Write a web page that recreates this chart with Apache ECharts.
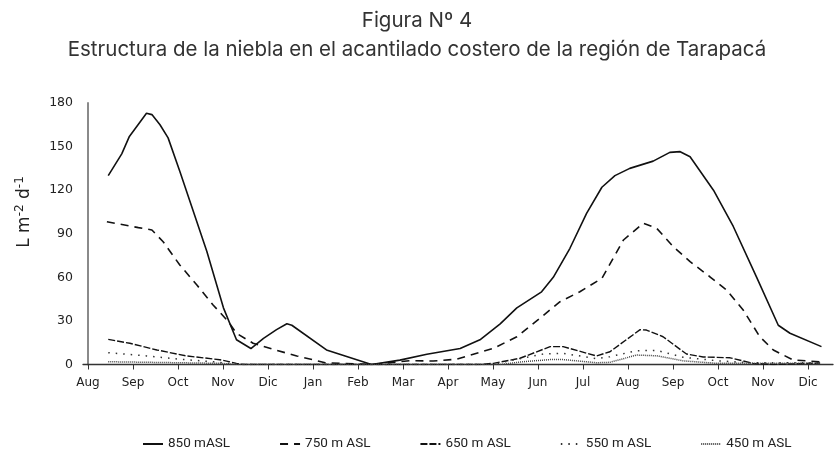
<!DOCTYPE html>
<html>
<head>
<meta charset="utf-8">
<script src="https://cdn.jsdelivr.net/npm/echarts@6/dist/echarts.min.js"></script>
<style>html,body{margin:0;padding:0;background:#fff}#c{width:834px;height:452px}</style>
</head>
<body>
<div id="c"></div>
<script>
// x values are months counted from the "Aug" tick (0 = Aug, 1 = Sep, ...)
var monthLabels = ['Aug','Sep','Oct','Nov','Dic','Jan','Feb','Mar','Apr','May','Jun','Jul','Aug','Sep','Oct','Nov','Dic'];
var yTicks = [0, 30, 60, 90, 120, 150, 180];
var seriesNames = ['850 mASL', '750 m ASL', '650 m ASL', '550 m ASL', '450 m ASL'];

var s850 = [[0.45,130],[0.75,145],[0.92,157],[1.30,173],[1.42,172],[1.60,165],[1.78,156],[2.04,133],[2.64,78],[3.01,39],[3.30,17],[3.62,11],[3.90,18],[4.19,24],[4.42,28],[4.53,27],[5.30,10],[6.30,0],[6.93,3],[7.53,7],[8.27,11],[8.71,17],[9.16,28],[9.53,39],[10.08,50],[10.34,60],[10.71,80],[11.08,104],[11.42,122],[11.71,130],[12.04,135],[12.56,140],[12.93,146],[13.16,146.5],[13.38,143],[13.90,120],[14.34,95],[14.86,60],[15.34,27],[15.60,21.5],[16.30,12.3]];
var s750 = [[0.42,98.3],[1.12,94.2],[1.42,92.6],[1.67,84.5],[2.04,68.5],[2.42,54.7],[2.78,41],[3.12,29.5],[3.30,21.5],[3.67,14.6],[4.12,10.4],[4.64,5.9],[5.27,1.2],[6.27,0],[7.16,2.6],[7.67,2.4],[8.19,3.6],[9.01,11.1],[9.53,19.1],[10.04,31.8],[10.49,43.2],[10.93,50.1],[11.42,59.3],[11.90,85.7],[12.34,97.2],[12.64,93.7],[13.01,81],[13.38,70.8],[13.82,60.4],[14.19,51.3],[14.56,37.5],[14.93,19.1],[15.23,10],[15.67,3.1],[16.27,1.9]];
var s650 = [[0.45,17.3],[0.93,14.6],[1.53,10],[2.19,5.9],[2.93,3.3],[3.30,0.8],[3.45,0],[6.30,0],[8.71,0],[9.01,0.8],[9.60,4.3],[10.27,12.3],[10.56,12.3],[11.30,5.9],[11.60,8.8],[12.27,24],[12.41,23.7],[12.78,19.1],[13.30,7.2],[13.67,5.2],[14.27,4.6],[14.78,0.8],[15.23,0],[16.27,1]];
var s550 = [[0.45,8.1],[1.30,5.9],[2.04,3.6],[2.78,1.9],[3.38,0],[6.30,0],[9.00,0],[9.53,3.6],[10.12,7.2],[10.56,7.7],[11.30,4],[11.60,5.4],[12.19,9.5],[12.64,9.7],[13.23,5],[13.97,2.6],[14.71,1.2],[16.27,1.2]];
var s450 = [[0.45,1.9],[2.04,1.2],[2.93,0.8],[3.38,0],[6.30,0],[9.16,0],[9.67,1.9],[10.27,3.4],[10.56,3.4],[11.30,1.2],[11.60,1.5],[12.19,6.5],[12.64,6],[13.23,2.5],[13.97,0.8],[16.27,0.8]];

var tickValues = monthLabels.map(function (_, i) { return i; });

var chart = echarts.init(document.getElementById('c'), null, {renderer: 'canvas'});
function lineSeries(name, data, color, width, type) {
  return {
    name: name, type: 'line', data: data, symbol: 'none', smooth: false,
    lineStyle: {color: color, width: width, type: type},
    itemStyle: {color: color},
    animation: false
  };
}
chart.setOption({
  animation: false,
  backgroundColor: '#fff',
  title: [
    {text: 'Figura Nº 4', left: 'center', top: 5,
     textStyle: {fontFamily: 'Inter', fontSize: 20.5, fontWeight: 'normal', color: '#333'}},
    {text: 'Estructura de la niebla en el acantilado costero de la región de Tarapacá', left: 'center', top: 34,
     textStyle: {fontFamily: 'Inter', fontSize: 20.5, fontWeight: 'normal', color: '#333'}}
  ],
  graphic: [{
    type: 'text', x: 25, y: 212, rotation: Math.PI / 2,
    style: {
      text: '{n|L m}{s|-2}{n| d}{s|-1}',
      align: 'center', verticalAlign: 'middle',
      rich: {
        n: {fontFamily: 'DejaVu Sans', fontSize: 17, fill: '#222'},
        s: {fontFamily: 'DejaVu Sans', fontSize: 12, fill: '#222', padding: [0, 0, 11, 0]}
      }
    }
  }],
  legend: {
    left: 137, top: 432, itemWidth: 20, itemHeight: 10, itemGap: 49,
    itemStyle: {opacity: 0},
    textStyle: {fontFamily: 'Roboto', fontSize: 13.5, color: '#222'},
    data: seriesNames
  },
  grid: {left: 83, right: 1, top: 103, bottom: 87.5, containLabel: false},
  xAxis: {
    type: 'value', min: -0.111, max: 16.556,
    axisLine: {show: true, lineStyle: {color: '#333', width: 1.3}},
    axisTick: {show: true, customValues: tickValues, length: 5, lineStyle: {color: '#333', width: 1}},
    axisLabel: {
      customValues: tickValues, margin: 12,
      fontFamily: 'DejaVu Sans', fontSize: 12, color: '#222',
      formatter: function (v) { return monthLabels[Math.round(v)]; }
    },
    splitLine: {show: false}
  },
  yAxis: {
    type: 'value', min: 0, max: 180, interval: 30,
    axisLine: {show: true, lineStyle: {color: '#8a8a8a', width: 2}},
    axisTick: {show: false},
    axisLabel: {
      margin: 10, fontFamily: 'DejaVu Sans', fontSize: 12.5, color: '#222',
      formatter: function (v) { return yTicks.indexOf(v) >= 0 ? String(v) : ''; }
    },
    splitLine: {show: false}
  },
  series: [
    lineSeries(seriesNames[0], s850, '#111', 1.6, 'solid'),
    lineSeries(seriesNames[1], s750, '#111', 1.6, [8, 6]),
    lineSeries(seriesNames[2], s650, '#111', 1.4, [7, 2]),
    lineSeries(seriesNames[3], s550, '#333', 1.5, [1.5, 6]),
    lineSeries(seriesNames[4], s450, '#444', 1.5, [1, 1])
  ]
});
</script>
</body>
</html>
